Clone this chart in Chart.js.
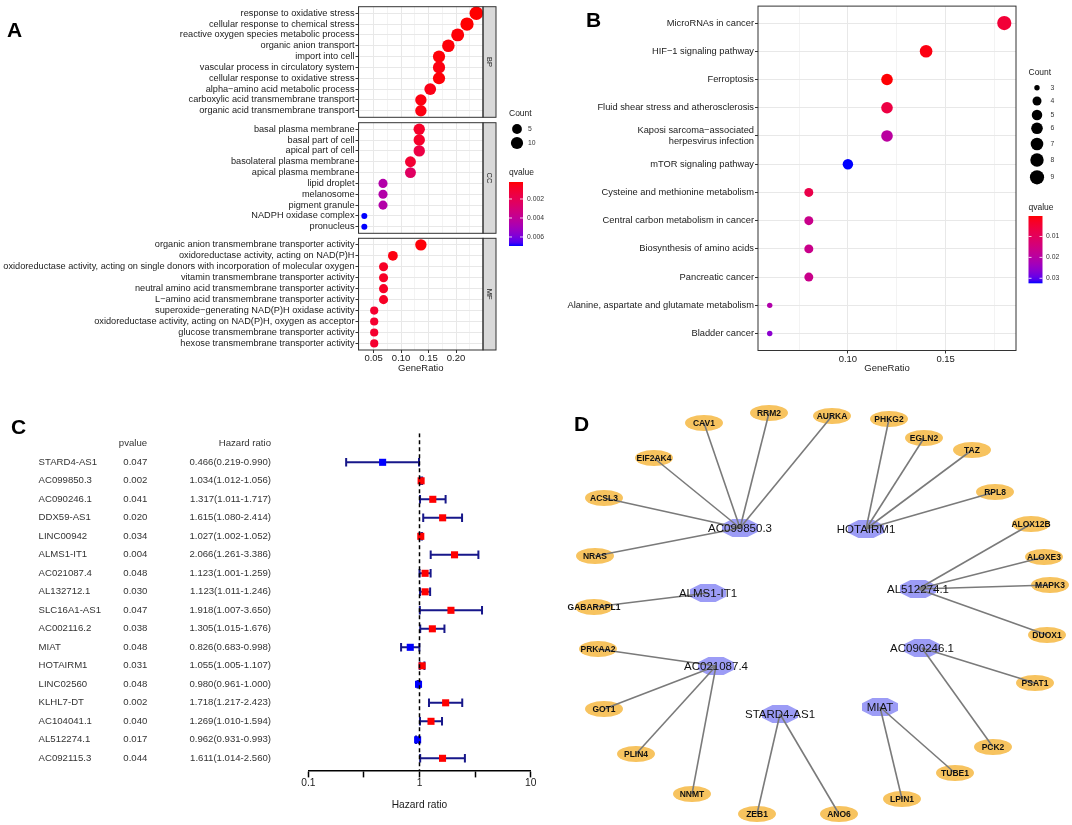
<!DOCTYPE html>
<html>
<head>
<meta charset="utf-8">
<title>Enrichment, Cox and ceRNA network</title>
<script src="https://cdn.jsdelivr.net/npm/chart.js@4.4.1/dist/chart.umd.min.js"></script>
<style>
  body { margin: 0; background: #fff; }
  #page { position: relative; width: 1072px; height: 825px; overflow: hidden; background: #fff; }
  #page canvas { position: absolute; }
  .tag { position: absolute; font: bold 21px/21px "Liberation Sans", Arial, sans-serif; color: #000; }
</style>
</head>
<body>
<div id="page">
  <canvas id="goBP" width="560" height="400" style="left:0;top:0"></canvas>
  <canvas id="goCC" width="560" height="400" style="left:0;top:0"></canvas>
  <canvas id="goMF" width="560" height="400" style="left:0;top:0"></canvas>
  <canvas id="kegg" width="532" height="400" style="left:540px;top:0"></canvas>
  <canvas id="cox" width="540" height="425" style="left:0;top:400px"></canvas>
  <canvas id="net" width="532" height="425" style="left:540px;top:400px"></canvas>
  <div class="tag" style="left:7px;top:19px">A</div>
  <div class="tag" style="left:586px;top:9px">B</div>
  <div class="tag" style="left:11px;top:416px">C</div>
  <div class="tag" style="left:574px;top:413px">D</div>
</div>
<script>
// ---------- panel A : GO terms ----------
const bpTerms = ['response to oxidative stress', 'cellular response to chemical stress', 'reactive oxygen species metabolic process',
  'organic anion transport', 'import into cell', 'vascular process in circulatory system', 'cellular response to oxidative stress',
  'alpha\u2212amino acid metabolic process', 'carboxylic acid transmembrane transport', 'organic acid transmembrane transport'];
const bpRatio = [0.237, 0.220, 0.203, 0.186, 0.169, 0.169, 0.169, 0.153, 0.136, 0.136];
const bpCount = [14, 13, 12, 11, 10, 10, 10, 9, 8, 8];
const bpQ = [0.00021, 0.00021, 0.0003, 0.0003, 0.0003, 0.0004, 0.0003, 0.0005, 0.0004, 0.0004];

const ccTerms = ['basal plasma membrane', 'basal part of cell', 'apical part of cell', 'basolateral plasma membrane', 'apical plasma membrane',
  'lipid droplet', 'melanosome', 'pigment granule', 'NADPH oxidase complex', 'pronucleus'];
const ccRatio = [0.133, 0.133, 0.133, 0.117, 0.117, 0.067, 0.067, 0.067, 0.033, 0.033];
const ccCount = [8, 8, 8, 7, 7, 4, 4, 4, 2, 2];
const ccQ = [0.0009, 0.0009, 0.0016, 0.0011, 0.0024, 0.0045, 0.0045, 0.0045, 0.00695, 0.00695];

const mfTerms = ['organic anion transmembrane transporter activity', 'oxidoreductase activity, acting on NAD(P)H',
  'oxidoreductase activity, acting on single donors with incorporation of molecular oxygen', 'vitamin transmembrane transporter activity',
  'neutral amino acid transmembrane transporter activity', 'L\u2212amino acid transmembrane transporter activity',
  'superoxide\u2212generating NAD(P)H oxidase activity', 'oxidoreductase activity, acting on NAD(P)H, oxygen as acceptor',
  'glucose transmembrane transporter activity', 'hexose transmembrane transporter activity'];
const mfRatio = [0.136, 0.085, 0.068, 0.068, 0.068, 0.068, 0.051, 0.051, 0.051, 0.051];
const mfCount = [8, 5, 4, 4, 4, 4, 3, 3, 3, 3];
const mfQ = [0.0003, 0.0004, 0.0008, 0.0008, 0.0008, 0.0008, 0.0010, 0.0010, 0.0010, 0.0010];

const goTicks = [0.025, 0.05, 0.075, 0.10, 0.125, 0.15, 0.175, 0.20, 0.225];
const goQRange = [0.00021, 0.00695];
const goQTicks = [0.002, 0.004, 0.006];
const goCountKeys = [5, 10];

// ---------- panel B : KEGG ----------
const keggTerms = ['MicroRNAs in cancer', 'HIF\u22121 signaling pathway', 'Ferroptosis', 'Fluid shear stress and atherosclerosis',
  ['Kaposi sarcoma\u2212associated', 'herpesvirus infection'], 'mTOR signaling pathway', 'Cysteine and methionine metabolism',
  'Central carbon metabolism in cancer', 'Biosynthesis of amino acids', 'Pancreatic cancer',
  'Alanine, aspartate and glutamate metabolism', 'Bladder cancer'];
const keggRatio = [0.18, 0.14, 0.12, 0.12, 0.12, 0.10, 0.08, 0.08, 0.08, 0.08, 0.06, 0.06];
const keggCount = [9, 7, 6, 6, 6, 5, 4, 4, 4, 4, 3, 3];
const keggQ = [0.005, 0.0012, 0.0004, 0.0065, 0.0195, 0.0324, 0.0075, 0.0165, 0.0165, 0.0165, 0.021, 0.026];
const keggTicks = [0.075, 0.10, 0.125, 0.15, 0.175];
const keggQRange = [0.0002, 0.0324];
const keggQTicks = [0.01, 0.02, 0.03];
const keggCountKeys = [3, 4, 5, 6, 7, 8, 9];

// ---------- panel C : Cox forest ----------
const coxGenes = ['STARD4-AS1', 'AC099850.3', 'AC090246.1', 'DDX59-AS1', 'LINC00942', 'ALMS1-IT1', 'AC021087.4', 'AL132712.1',
  'SLC16A1-AS1', 'AC002116.2', 'MIAT', 'HOTAIRM1', 'LINC02560', 'KLHL7-DT', 'AC104041.1', 'AL512274.1', 'AC092115.3'];
const coxP = [0.047, 0.002, 0.041, 0.020, 0.034, 0.004, 0.048, 0.030, 0.047, 0.038, 0.048, 0.031, 0.048, 0.002, 0.040, 0.017, 0.044];
const coxHR = [0.466, 1.034, 1.317, 1.615, 1.027, 2.066, 1.123, 1.123, 1.918, 1.305, 0.826, 1.055, 0.980, 1.718, 1.269, 0.962, 1.611];
const coxLow = [0.219, 1.012, 1.011, 1.080, 1.002, 1.261, 1.001, 1.011, 1.007, 1.015, 0.683, 1.005, 0.961, 1.217, 1.010, 0.931, 1.014];
const coxHigh = [0.990, 1.056, 1.717, 2.414, 1.052, 3.386, 1.259, 1.246, 3.650, 1.676, 0.998, 1.107, 1.000, 2.423, 1.594, 0.993, 2.560];
const hrTicks = [0.1, 0.3162, 1, 3.162, 10];

// ---------- panel D : lncRNA - mRNA network (layout positions) ----------
const hubNames = ['AC099850.3', 'HOTAIRM1', 'AL512274.1', 'ALMS1-IT1', 'AC021087.4', 'AC090246.1', 'STARD4-AS1', 'MIAT'];
const hubX = [740, 866, 918, 708, 716, 922, 780, 880];
const hubY = [528, 529, 589, 593, 666, 648, 714, 707];
const leafNames = ['CAV1', 'RRM2', 'AURKA', 'EIF2AK4', 'ACSL3', 'NRAS', 'PHKG2', 'EGLN2', 'TAZ', 'RPL8', 'ALOX12B', 'ALOXE3',
  'MAPK3', 'DUOX1', 'GABARAPL1', 'PRKAA2', 'GOT1', 'PLIN4', 'NNMT', 'ZEB1', 'ANO6', 'LPIN1', 'TUBE1', 'PCK2', 'PSAT1'];
const leafX = [704, 769, 832, 654, 604, 595, 889, 924, 972, 995, 1031, 1044, 1050, 1047, 594, 598, 604, 636, 692, 757, 839, 902, 955, 993, 1035];
const leafY = [423, 413, 416, 458, 498, 556, 419, 438, 450, 492, 524, 557, 585, 635, 607, 649, 709, 754, 794, 814, 814, 799, 773, 747, 683];
const links = [
  ['AC099850.3', 'CAV1'], ['AC099850.3', 'RRM2'], ['AC099850.3', 'AURKA'], ['AC099850.3', 'EIF2AK4'], ['AC099850.3', 'ACSL3'], ['AC099850.3', 'NRAS'],
  ['HOTAIRM1', 'PHKG2'], ['HOTAIRM1', 'EGLN2'], ['HOTAIRM1', 'TAZ'], ['HOTAIRM1', 'RPL8'],
  ['AL512274.1', 'ALOX12B'], ['AL512274.1', 'ALOXE3'], ['AL512274.1', 'MAPK3'], ['AL512274.1', 'DUOX1'],
  ['ALMS1-IT1', 'GABARAPL1'],
  ['AC021087.4', 'PRKAA2'], ['AC021087.4', 'GOT1'], ['AC021087.4', 'PLIN4'], ['AC021087.4', 'NNMT'],
  ['AC090246.1', 'PSAT1'], ['AC090246.1', 'PCK2'],
  ['STARD4-AS1', 'ZEB1'], ['STARD4-AS1', 'ANO6'],
  ['MIAT', 'LPIN1'], ['MIAT', 'TUBE1']
];

// ---------- common ----------
const FONT = '"Liberation Sans", Arial, Helvetica, sans-serif';
Chart.defaults.font.family = FONT;
Chart.defaults.color = '#1a1a1a';
Chart.defaults.animation = false;
Chart.defaults.events = [];
Chart.defaults.plugins.legend.display = false;
Chart.defaults.plugins.tooltip.enabled = false;

// red -> blue gradient in Lab space, like ggplot's scale_colour_gradient
function lin(c) { c /= 255; return c <= 0.04045 ? c / 12.92 : Math.pow((c + 0.055) / 1.055, 2.4); }
function gam(c) { c = Math.max(0, Math.min(1, c)); return Math.round(255 * (c <= 0.0031308 ? 12.92 * c : 1.055 * Math.pow(c, 1 / 2.4) - 0.055)); }
function toLab(rgb) {
  const [r, g, b] = rgb.map(lin);
  const X = (0.4124 * r + 0.3576 * g + 0.1805 * b) / 0.95047, Y = 0.2126 * r + 0.7152 * g + 0.0722 * b, Z = (0.0193 * r + 0.1192 * g + 0.9505 * b) / 1.08883;
  const f = t => t > 0.008856 ? Math.cbrt(t) : 7.787 * t + 16 / 116;
  return [116 * f(Y) - 16, 500 * (f(X) - f(Y)), 200 * (f(Y) - f(Z))];
}
function fromLab(L, a, b) {
  const fy = (L + 16) / 116, fx = fy + a / 500, fz = fy - b / 200;
  const fi = t => t * t * t > 0.008856 ? t * t * t : (t - 16 / 116) / 7.787;
  const X = fi(fx) * 0.95047, Y = fi(fy), Z = fi(fz) * 1.08883;
  return 'rgb(' + gam(3.2406 * X - 1.5372 * Y - 0.4986 * Z) + ',' + gam(-0.9689 * X + 1.8758 * Y + 0.0415 * Z) + ',' + gam(0.0557 * X - 0.2040 * Y + 1.0570 * Z) + ')';
}
const LAB_LO = toLab([255, 0, 0]), LAB_HI = toLab([0, 0, 255]);
function qColor(q, range) {
  const t = Math.max(0, Math.min(1, (q - range[0]) / (range[1] - range[0])));
  return fromLab(...LAB_LO.map((v, i) => v + (LAB_HI[i] - v) * t));
}
function dotRadius(c, cmin, cmax, rmin, rmax) { return rmin + (rmax - rmin) * Math.sqrt((c - cmin) / (cmax - cmin)); }
const isMajor = v => Math.abs(v / 0.05 - Math.round(v / 0.05)) < 1e-6;

function drawLegend(c, L) {
  c.save();
  c.textBaseline = 'middle'; c.textAlign = 'left';
  c.fillStyle = '#1a1a1a'; c.font = '8.5px ' + FONT;
  c.fillText('Count', L.x, L.countTitleY);
  c.fillText('qvalue', L.x, L.qTitleY);
  c.font = '6.8px ' + FONT;
  L.counts.forEach((n, i) => {
    c.fillStyle = '#000'; c.beginPath(); c.arc(L.dotX, L.countY[i], L.rad(n), 0, 2 * Math.PI); c.fill();
    c.fillStyle = '#333'; c.fillText(String(n), L.labelX, L.countY[i]);
  });
  const g = c.createLinearGradient(0, L.barTop, 0, L.barBottom);
  for (let i = 0; i <= 20; i++) g.addColorStop(i / 20, qColor(L.q[0] + (L.q[1] - L.q[0]) * i / 20, L.q));
  c.fillStyle = g; c.fillRect(L.x, L.barTop, L.barW, L.barBottom - L.barTop);
  L.qTicks.forEach(t => {
    const yy = L.barTop + (t - L.q[0]) / (L.q[1] - L.q[0]) * (L.barBottom - L.barTop);
    c.strokeStyle = 'rgba(255,255,255,0.8)'; c.lineWidth = 1;
    c.beginPath(); c.moveTo(L.x, yy); c.lineTo(L.x + 3, yy); c.moveTo(L.x + L.barW - 3, yy); c.lineTo(L.x + L.barW, yy); c.stroke();
    c.fillStyle = '#333'; c.fillText(t.toFixed(L.digits), L.qLabelX, yy);
  });
  c.restore();
}

function framePlugin(opt) {
  return {
    id: 'frame',
    afterDraw(chart) {
      const a = chart.chartArea, c = chart.ctx;
      c.save();
      c.strokeStyle = '#333'; c.lineWidth = 1;
      if (opt.strip) {
        c.fillStyle = '#d9d9d9';
        c.fillRect(a.right, a.top, 13, a.bottom - a.top);
        c.strokeRect(a.right, a.top, 13, a.bottom - a.top);
        c.save();
        c.translate(a.right + 6.5, (a.top + a.bottom) / 2); c.rotate(Math.PI / 2);
        c.fillStyle = '#1a1a1a'; c.font = '7.5px ' + FONT; c.textAlign = 'center'; c.textBaseline = 'middle';
        c.fillText(opt.strip, 0, 0);
        c.restore();
      }
      c.strokeRect(a.left, a.top, a.right - a.left, a.bottom - a.top);
      if (opt.title) {
        c.fillStyle = '#1a1a1a'; c.font = '9.5px ' + FONT; c.textAlign = 'center'; c.textBaseline = 'middle';
        c.fillText(opt.title, (a.left + a.right) / 2, opt.titleY);
      }
      c.restore();
      if (opt.legend) drawLegend(chart.ctx, opt.legend);
    }
  };
}

// ---------- panel A ----------
function goFacet(id, strip, terms, ratio, count, q, top, bottom, withAxis, legend) {
  new Chart(document.getElementById(id), {
    type: 'scatter',
    data: {
      datasets: [{
        data: ratio.map((r, i) => ({ x: r, y: i + 1 })),
        pointRadius: count.map(n => dotRadius(n, 2, 14, 3, 6.8)),
        pointBackgroundColor: q.map(v => qColor(v, goQRange)),
        pointBorderWidth: 0,
        clip: false
      }]
    },
    options: {
      responsive: false,
      layout: { autoPadding: false, padding: { top: top, bottom: withAxis ? 0 : 400 - bottom, left: 0, right: 77 } },
      scales: {
        x: {
          type: 'linear', min: 0.0224, max: 0.2491,
          afterBuildTicks: s => { s.ticks = goTicks.map(v => ({ value: v })); },
          afterFit: s => { s.height = withAxis ? 400 - bottom : 0; },
          border: { display: false },
          grid: {
            color: ctx => ctx.tick && isMajor(ctx.tick.value) ? '#e8e8e8' : '#f3f3f3',
            tickColor: ctx => ctx.tick && isMajor(ctx.tick.value) ? '#333' : 'rgba(0,0,0,0)',
            tickLength: 3, drawTicks: withAxis
          },
          ticks: { display: withAxis, autoSkip: false, maxRotation: 0, padding: 0, font: { size: 9.5 }, color: '#1a1a1a',
            callback: v => isMajor(v) ? v.toFixed(2) : '' }
        },
        y: {
          type: 'linear', reverse: true, min: 0.4, max: terms.length + 0.6,
          afterBuildTicks: s => { s.ticks = terms.map((t, i) => ({ value: i + 1 })); },
          afterFit: s => { s.width = 358.5; },
          border: { display: false },
          grid: { color: '#e8e8e8', tickColor: '#333', tickLength: 3 },
          ticks: { autoSkip: false, padding: 1, font: { size: 9.2 }, color: '#1a1a1a', callback: v => terms[v - 1] }
        }
      }
    },
    plugins: [framePlugin({ strip: strip, title: withAxis ? 'GeneRatio' : null, titleY: 368.5, legend: legend })]
  });
}

goFacet('goBP', 'BP', bpTerms, bpRatio, bpCount, bpQ, 6.7, 117.3, false, null);
goFacet('goCC', 'CC', ccTerms, ccRatio, ccCount, ccQ, 122.7, 233.3, false, null);
goFacet('goMF', 'MF', mfTerms, mfRatio, mfCount, mfQ, 238.3, 350, true, {
  x: 509, countTitleY: 114, counts: goCountKeys, countY: [129, 143], dotX: 517, labelX: 528,
  rad: n => dotRadius(n, 2, 14, 3, 6.8),
  qTitleY: 173, barW: 14, barTop: 182, barBottom: 246, q: goQRange, qTicks: goQTicks, qLabelX: 527, digits: 3
});

// ---------- panel B ----------
new Chart(document.getElementById('kegg'), {
  type: 'scatter',
  data: {
    datasets: [{
      data: keggRatio.map((r, i) => ({ x: r, y: i + 1 })),
      pointRadius: keggCount.map(n => dotRadius(n, 3, 9, 2.7, 7.1)),
      pointBackgroundColor: keggQ.map(v => qColor(v, keggQRange)),
      pointBorderWidth: 0,
      clip: false
    }]
  },
  options: {
    responsive: false,
    layout: { autoPadding: false, padding: { top: 1.9, bottom: 0, left: 0, right: 56 } },
    scales: {
      x: {
        type: 'linear', min: 0.054, max: 0.186,
        afterBuildTicks: s => { s.ticks = keggTicks.map(v => ({ value: v })); },
        afterFit: s => { s.height = 49.5; },
        border: { display: false },
        grid: {
          color: ctx => ctx.tick && isMajor(ctx.tick.value) ? '#e8e8e8' : '#f3f3f3',
          tickColor: ctx => ctx.tick && isMajor(ctx.tick.value) ? '#333' : 'rgba(0,0,0,0)',
          tickLength: 3
        },
        ticks: { autoSkip: false, maxRotation: 0, padding: 0, font: { size: 9.5 }, color: '#1a1a1a',
          callback: v => isMajor(v) ? v.toFixed(2) : '' }
      },
      y: {
        type: 'linear', reverse: true, min: 0.4, max: keggTerms.length + 0.6,
        afterBuildTicks: s => { s.ticks = keggTerms.map((t, i) => ({ value: i + 1 })); },
        afterFit: s => { s.width = 218; },
        border: { display: false },
        grid: { color: '#e8e8e8', tickColor: '#333', tickLength: 3 },
        ticks: { autoSkip: false, padding: 1, font: { size: 9.3, lineHeight: 1.1 }, color: '#1a1a1a', callback: v => keggTerms[v - 1] }
      }
    }
  },
  plugins: [framePlugin({ title: 'GeneRatio', titleY: 368.5, legend: {
    x: 488.5, countTitleY: 72.7, counts: keggCountKeys, countY: [87.7, 101, 115, 128.3, 144, 160, 177.3], dotX: 497, labelX: 510.5,
    rad: n => dotRadius(n, 3, 9, 2.7, 7.1),
    qTitleY: 207.3, barW: 14, barTop: 216, barBottom: 283.3, q: keggQRange, qTicks: keggQTicks, qLabelX: 506, digits: 2
  } })]
});

// ---------- panel C ----------
const coxTable = {
  id: 'coxTable',
  beforeDatasetsDraw(chart) {
    const x = chart.scales.x, y = chart.scales.y, c = chart.ctx;
    c.save();
    c.strokeStyle = '#17178a'; c.lineWidth = 2;
    coxHR.forEach((v, i) => {
      const yy = y.getPixelForValue(i + 1), x1 = x.getPixelForValue(coxLow[i]), x2 = x.getPixelForValue(coxHigh[i]);
      c.beginPath();
      c.moveTo(x1, yy); c.lineTo(x2, yy);
      c.moveTo(x1, yy - 4.3); c.lineTo(x1, yy + 4.3);
      c.moveTo(x2, yy - 4.3); c.lineTo(x2, yy + 4.3);
      c.stroke();
    });
    c.restore();
  },
  afterDraw(chart) {
    const x = chart.scales.x, y = chart.scales.y, c = chart.ctx;
    c.save();
    c.font = '9.6px ' + FONT; c.fillStyle = '#333'; c.textBaseline = 'middle';
    const y0 = y.getPixelForValue(0);
    c.textAlign = 'center'; c.fillText('pvalue', 133, y0);
    c.textAlign = 'right'; c.fillText('Hazard ratio', 271, y0);
    coxGenes.forEach((g, i) => {
      const yy = y.getPixelForValue(i + 1);
      c.textAlign = 'left';
      c.fillText(g, 38.6, yy);
      c.fillText(coxP[i].toFixed(3), 123.3, yy);
      c.textAlign = 'right';
      c.fillText(coxHR[i].toFixed(3) + '(' + coxLow[i].toFixed(3) + '-' + coxHigh[i].toFixed(3) + ')', 271, yy);
    });
    c.fillStyle = '#1a1a1a'; c.font = '10.2px ' + FONT; c.textAlign = 'center';
    c.fillText('Hazard ratio', x.getPixelForValue(1), 405);
    c.restore();
  }
};

new Chart(document.getElementById('cox'), {
  type: 'scatter',
  data: {
    datasets: [
      { data: [{ x: 1, y: -0.568 }, { x: 1, y: 17.67 }], showLine: true, borderColor: '#000', borderWidth: 1.5, borderDash: [4, 3], pointRadius: 0 },
      {
        data: coxHR.map((v, i) => ({ x: v, y: i + 1 })),
        pointStyle: 'rect', pointRadius: 5, pointBorderWidth: 0,
        pointBackgroundColor: coxHR.map(v => v > 1 ? '#ff0000' : '#0000ff'),
        clip: false
      }
    ]
  },
  options: {
    responsive: false,
    layout: { autoPadding: false, padding: { top: 33.3, bottom: 0, left: 308.3, right: 9.3 } },
    scales: {
      x: {
        type: 'logarithmic', min: 0.1, max: 10,
        afterBuildTicks: s => { s.ticks = hrTicks.map(v => ({ value: v })); },
        afterFit: s => { s.height = 54.3; },
        border: { display: true, color: '#000', width: 1.5 },
        grid: { drawOnChartArea: false, tickLength: 6.7, tickColor: '#000', tickWidth: 1.5 },
        ticks: { autoSkip: false, maxRotation: 0, padding: 0, font: { size: 10.2 }, color: '#1a1a1a',
          callback: v => (v === 0.1 || v === 1 || v === 10) ? String(v) : '' }
      },
      y: { type: 'linear', display: false, reverse: true, min: -0.568, max: 17.67 }
    }
  },
  plugins: [coxTable]
});

// ---------- panel D ----------
function nodeShape(w, h, color, octagon) {
  const cv = document.createElement('canvas');
  cv.width = w; cv.height = h;
  const c = cv.getContext('2d');
  c.fillStyle = color;
  c.beginPath();
  if (octagon) {
    const a = 0.29;
    c.moveTo(w * a, 0); c.lineTo(w * (1 - a), 0); c.lineTo(w, h * a); c.lineTo(w, h * (1 - a));
    c.lineTo(w * (1 - a), h); c.lineTo(w * a, h); c.lineTo(0, h * (1 - a)); c.lineTo(0, h * a);
    c.closePath();
  } else {
    c.ellipse(w / 2, h / 2, w / 2, h / 2, 0, 0, 2 * Math.PI);
  }
  c.fill();
  return cv;
}
const leafShape = nodeShape(38, 16, '#f7c35f', false);
const hubShape = nodeShape(36, 18, '#9c9cf6', true);

const edgeSets = links.map(([h, l]) => {
  const hi = hubNames.indexOf(h), li = leafNames.indexOf(l);
  return {
    data: [{ x: hubX[hi], y: hubY[hi] }, { x: leafX[li], y: leafY[li] }],
    showLine: true, borderColor: '#7a7a7a', borderWidth: 1.6, pointRadius: 0
  };
});

const netLabels = {
  id: 'netLabels',
  afterDatasetsDraw(chart) {
    const x = chart.scales.x, y = chart.scales.y, c = chart.ctx;
    c.save();
    c.textAlign = 'center'; c.textBaseline = 'middle'; c.fillStyle = '#111';
    c.font = 'bold 8.5px ' + FONT;
    leafNames.forEach((n, i) => c.fillText(n, x.getPixelForValue(leafX[i]), y.getPixelForValue(leafY[i]) + 0.5));
    c.font = '11.5px ' + FONT;
    hubNames.forEach((n, i) => c.fillText(n, x.getPixelForValue(hubX[i]), y.getPixelForValue(hubY[i]) + 0.5));
    c.restore();
  }
};

new Chart(document.getElementById('net'), {
  type: 'scatter',
  data: {
    datasets: edgeSets.concat([
      { data: leafNames.map((n, i) => ({ x: leafX[i], y: leafY[i] })), pointStyle: leafShape, pointRadius: 10 },
      { data: hubNames.map((n, i) => ({ x: hubX[i], y: hubY[i] })), pointStyle: hubShape, pointRadius: 10 }
    ])
  },
  options: {
    responsive: false,
    layout: { autoPadding: false, padding: 0 },
    scales: {
      x: { type: 'linear', display: false, min: 540, max: 1072 },
      y: { type: 'linear', display: false, reverse: true, min: 400, max: 825 }
    }
  },
  plugins: [netLabels]
});
</script>
</body>
</html>
